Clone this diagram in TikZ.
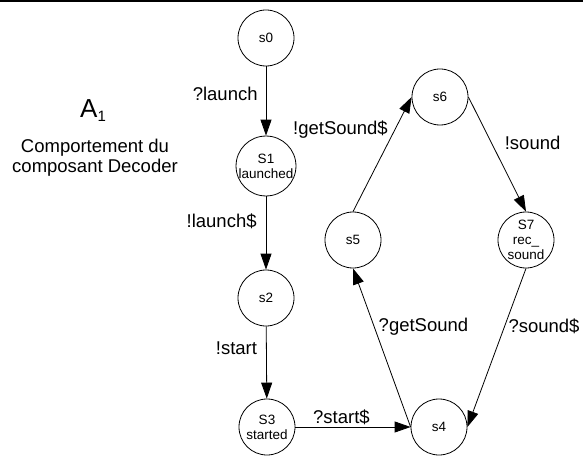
\documentclass[tikz,border=0pt]{standalone}
\usepackage{fontspec}
\setmainfont{Liberation Sans}
\usetikzlibrary{arrows.meta}
\begin{document}
\begin{tikzpicture}[x=1pt,y=-1pt,
  state/.style={circle,draw,line width=0.8pt,minimum size=56pt,inner sep=0pt,align=center,font=\fontsize{13.5}{15}\selectfont},
  trans/.style={line width=0.8pt,-{Triangle[length=16pt,width=11pt]}},
  lab/.style={font=\fontsize{18.5}{20}\selectfont,inner sep=0pt}]
\useasboundingbox (0,0) rectangle (583,457);
\fill (0,0) rectangle (583,2.5);
% title
\node[inner sep=0pt,anchor=base] (title) at (93,118) {{\fontsize{26}{26}\selectfont A}\raisebox{-4pt}{\fontsize{15}{15}\selectfont 1}};
\node[inner sep=0pt,align=center,font=\fontsize{18.5}{20}\selectfont] (desc) at (95,157.5) {Comportement du\\composant Decoder};
% states
\node[state] (s0) at (266,38) {s0};
\node[state] (S1) at (266,166) {S1\\launched};
\node[state] (s2) at (266,298) {s2};
\node[state] (S3) at (267,427) {S3\\started};
\node[state] (s4) at (439,427) {s4};
\node[state] (s5) at (353,240) {s5};
\node[state] (s6) at (440,97) {s6};
\node[state] (S7) at (526,240) {S7\\rec\_\\sound};
% transitions
\draw[trans] (s0) -- node[lab,pos=0.39,anchor=east,xshift=-8pt]{?launch} (S1);
\draw[trans] (S1) -- node[lab,pos=0.34,anchor=east,xshift=-9pt]{!launch\$} (s2);
\draw[trans] (s2) -- node[lab,pos=0.3,anchor=east,xshift=-9pt]{!start} (S3);
\draw[trans] (S3) -- node[lab,pos=0.4,anchor=south,yshift=2pt]{?start\$} (s4);
\draw[trans] (s4.west) -- node[lab,pos=0.63,anchor=west,xshift=4pt]{?getSound} (s5.south);
\draw[trans] (s5.north) -- node[lab,pos=0.72,anchor=east,xshift=-7pt]{!getSound\$} (s6.west);
\draw[trans] (s6.east) -- node[lab,pos=0.4,anchor=west,xshift=13pt]{!sound} (S7.north);
\draw[trans] (S7.south) -- node[lab,pos=0.365,anchor=west,xshift=3.5pt]{?sound\$} (s4.east);
\end{tikzpicture}
\end{document}
